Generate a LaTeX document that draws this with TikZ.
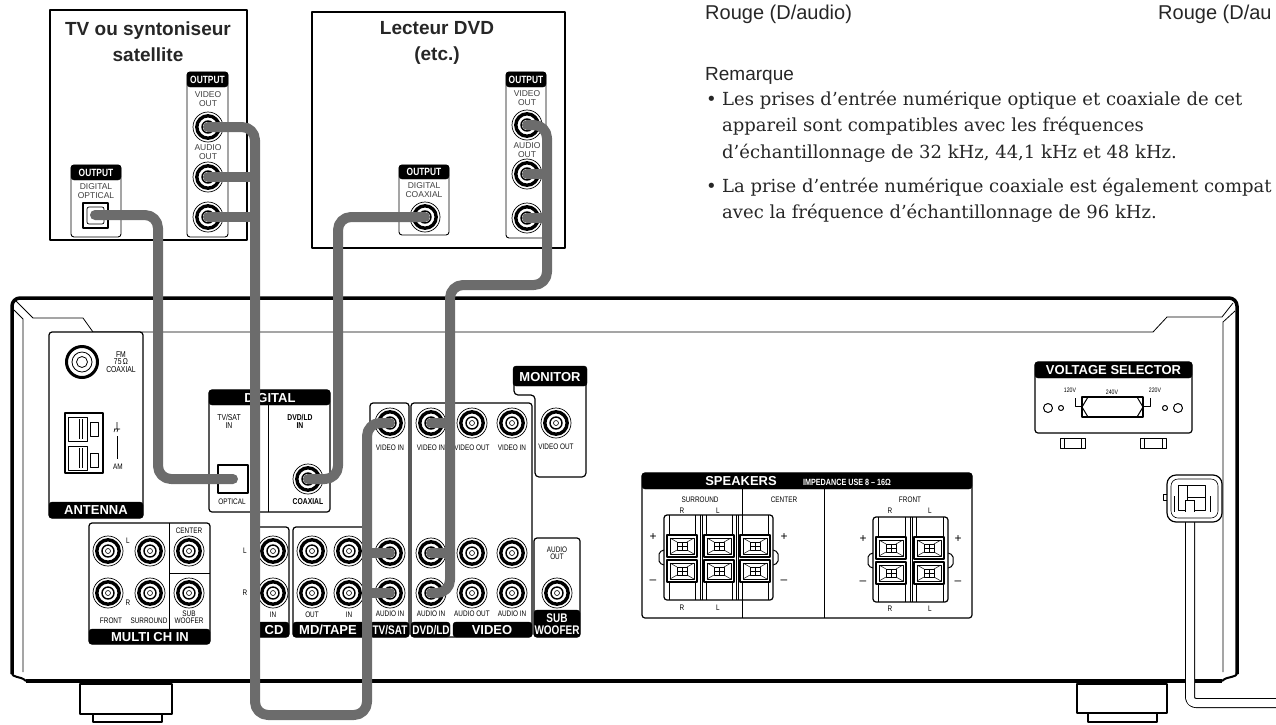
\documentclass[tikz,border=0pt]{standalone}
\usepackage{fontspec}
\setmainfont{Liberation Serif}
\setsansfont{Liberation Sans}
\newfontfamily\narrowsans{Liberation Sans}[FakeStretch=0.8]
\newfontfamily\notefont{DejaVu Serif}
\usepackage{tikz}
\definecolor{cablegray}{RGB}{108,108,108}
\tikzstyle{cable} = [draw=cablegray, line width=10pt, rounded corners=13pt, line cap=round]
\tikzstyle{panel} = [line width=1.2pt, rounded corners=3pt, fill=white]
\tikzstyle{devpanel} = [line width=0.9pt, rounded corners=3pt, fill=white]
\tikzstyle{bar} = [fill=black, rounded corners=3pt]
\tikzstyle{bartext} = [text=white, font=\sffamily\bfseries\fontsize{13}{13}\selectfont, inner sep=0pt]
\tikzstyle{narrowbar} = [text=white, font=\narrowsans\bfseries\fontsize{12.5}{12}\selectfont, inner sep=0pt, align=center]
\tikzstyle{outtab} = [text=white, font=\narrowsans\bfseries\fontsize{10.5}{10}\selectfont, inner sep=0pt]
\tikzstyle{lbl} = [font=\narrowsans\fontsize{8}{8}\selectfont, align=center, inner sep=0pt]
\tikzstyle{blbl} = [font=\narrowsans\bfseries\fontsize{8.5}{8}\selectfont, align=center, inner sep=0pt]
\tikzstyle{devlbl} = [font=\sffamily\fontsize{8.5}{9}\selectfont, align=center, inner sep=0pt, text=black!75]
\tikzstyle{title} = [font=\sffamily\bfseries\fontsize{19}{26}\selectfont, align=center, text=black!85]
\tikzstyle{note} = [font=\notefont\fontsize{18}{18}\selectfont, anchor=base west, inner sep=0pt, text=black!85]
\tikzstyle{head} = [font=\sffamily\fontsize{20}{20}\selectfont, anchor=base west, inner sep=0pt, text=black!85]
\tikzstyle{sign} = [font=\sffamily\fontsize{12}{12}\selectfont, inner sep=0pt]

% RCA socket: x, y, name
\newcommand{\rcajack}[3]{%
  \coordinate (#3) at (#1,#2);
  \draw[fill=white, line width=0.7pt] (#3) circle (15pt);
  \draw[line width=3.4pt] (#3) circle (11.2pt);
  \draw[line width=1.4pt] (#3) circle (6pt);
  \draw[line width=0.6pt] (#3) circle (2.5pt);
}
% speaker terminal button: top left corner
\newcommand{\spkbtn}[2]{%
  \draw[line width=1.3pt, fill=white] (#1,#2) rectangle ++(30,22);
  \draw[line width=0.5pt] (#1+3,#2+3) rectangle ++(24,16);
  \draw[line width=0.5pt] (#1+10,#2+7) rectangle ++(10,8);
  \draw[line width=0.5pt] (#1+3,#2+3) -- (#1+10,#2+7) (#1+27,#2+3) -- (#1+20,#2+7)
    (#1+3,#2+19) -- (#1+10,#2+15) (#1+27,#2+19) -- (#1+20,#2+15);
  \draw[line width=0.5pt] (#1+15,#2+7) -- (#1+15,#2+15) (#1+10,#2+11) -- (#1+20,#2+11);
}

\begin{document}
\begin{tikzpicture}[x=1pt,y=-1pt,line join=round]
\useasboundingbox (0,0) rectangle (1276,724);
\clip (0,0) rectangle (1276,724);

% source devices
\draw[line width=1.1pt] (50,10) rectangle (247,240);
\node[title] (tvTitle) at (148,42) {TV ou syntoniseur\\satellite};
\draw[devpanel] (71,165) rectangle (121,237);
\draw[bar] (71,165) rectangle (121,180);
\node[outtab] (tvOptTab) at (96,173) {OUTPUT};
\node[devlbl] (tvOptLbl) at (96,191) {DIGITAL\\OPTICAL};
\coordinate (tvOpt) at (95,215);
\draw[line width=1.2pt] (83,203) rectangle (108,228);
\draw[line width=0.7pt, rounded corners=2pt] (87,207) rectangle (104,224);
\draw[devpanel] (187,72) rectangle (228,237);
\draw[bar] (187,72) rectangle (228,87);
\node[outtab] (tvOutTab) at (207.5,80) {OUTPUT};
\node[devlbl] (tvVidLbl) at (208,99) {VIDEO\\OUT};
\node[devlbl] (tvAudLbl) at (208,152) {AUDIO\\OUT};
\rcajack{208}{127}{tvVid}
\rcajack{208}{177}{tvAudL}
\rcajack{208}{217}{tvAudR}

\draw[line width=1.1pt] (312,12) rectangle (565,248);
\node[title] (dvdTitle) at (437,43) {Lecteur DVD\\(etc.)};
\draw[devpanel] (399,165) rectangle (449,235);
\draw[bar] (399,165) rectangle (449,179);
\node[outtab] (dvdCoaxTab) at (424,172) {OUTPUT};
\node[devlbl] (dvdCoaxLbl) at (424,190) {DIGITAL\\COAXIAL};
\rcajack{425}{217}{dvdCoax}
\draw[devpanel] (506,72) rectangle (546,238);
\draw[bar] (506,72) rectangle (546,87);
\node[outtab] (dvdOutTab) at (526,80) {OUTPUT};
\node[devlbl] (dvdVidLbl) at (527,98) {VIDEO\\OUT};
\node[devlbl] (dvdAudLbl) at (527,150) {AUDIO\\OUT};
\rcajack{527}{125}{dvdVid}
\rcajack{527}{174}{dvdAudL}
\rcajack{527}{218}{dvdAudR}

% note text
\node[head] (rougeA) at (705,19) {Rouge (D/audio)};
\node[head] (rougeB) at (1158,19) {Rouge (D/au};
\node[head, font=\sffamily\fontsize{19}{20}\selectfont] (remarque) at (705,80) {Remarque};
\node[note] (bulA) at (706,105) {•};
\node[note] (noteA) at (722,105) {Les prises d’entrée numérique optique et coaxiale de cet};
\node[note] (noteB) at (722,131) {appareil sont compatibles avec les fréquences};
\node[note] (noteC) at (722,158) {d’échantillonnage de 32 kHz, 44,1 kHz et 48 kHz.};
\node[note] (bulB) at (706,192) {•};
\node[note] (noteD) at (722,192) {La prise d’entrée numérique coaxiale est également compat};
\node[note] (noteE) at (722,218) {avec la fréquence d’échantillonnage de 96 kHz.};

% receiver body
\draw[line width=3.5pt, rounded corners=8pt] (12,674) -- (12,298) -- (1237,298) -- (1237,674);
\draw[line width=3.5pt] (26,681) -- (1222,681);
\draw[line width=2pt] (12,672) .. controls (12,679) and (20,675) .. (26,681);
\draw[line width=2pt] (1237,672) .. controls (1237,679) and (1228,675) .. (1222,681);
\draw[line width=0.8pt] (16,301) -- (33,318) -- (83,318) -- (93,332) -- (1153,332) -- (1167,317) -- (1222,317) -- (1233,303);
\draw[line width=0.8pt] (14,310) -- (23,319) -- (23,672);
\draw[line width=0.8pt] (1235,311) -- (1223,322) -- (1223,672);
\draw[line width=1.3pt, fill=white] (80,684) rectangle (172,714);
\draw[line width=1.3pt, fill=white] (93,714) rectangle (162,722);
\draw[line width=1.3pt, fill=white] (1077,684) rectangle (1167,713);
\draw[line width=1.3pt, fill=white] (1088,713) rectangle (1157,722);

% antenna
\draw[panel] (49,332) rectangle (143,518);
\draw[bar] (49,502) rectangle (143,518);
\node[bartext] (antT) at (96,510) {ANTENNA};
\draw[line width=3pt] (82,362) circle (15.5pt);
\draw[line width=0.8pt] (82,362) circle (10pt);
\draw[line width=0.8pt] (82,362) circle (5.5pt);
\node[lbl, font=\narrowsans\fontsize{8.5}{7.5}\selectfont] (fmLbl) at (121,362) {FM\\75\,Ω\\COAXIAL};
\draw[line width=1.2pt] (65,413) rectangle (103,473);
\draw[line width=1pt] (68,417) rectangle (87,441);
\draw[line width=0.6pt] (79,419) -- (79,439) (82,419) -- (82,439);
\draw[line width=1pt] (90,422) rectangle (98,436);
\draw[line width=1pt] (68,446) rectangle (87,470);
\draw[line width=0.6pt] (79,448) -- (79,468) (82,448) -- (82,468);
\draw[line width=1pt] (90,453) rectangle (98,467);
\draw[line width=0.6pt] (114,429) -- (120,429) (117,422) -- (117,429) (115,429) -- (114,432) (118,429) -- (117,432);
\draw[line width=1pt] (117,436) -- (117,459);
\node[lbl] (amLbl) at (118,467) {AM};

% digital in
\draw[panel] (209,390) rectangle (330,512);
\draw[bar] (209,390) rectangle (330,405);
\node[bartext] (digT) at (270,398) {DIGITAL};
\draw[line width=0.9pt] (268,405) -- (268,512);
\node[lbl, font=\narrowsans\fontsize{8.5}{8}\selectfont] (digSatLbl) at (229,421) {TV/SAT\\IN};
\node[blbl] (digDvdLbl) at (300,421) {DVD/LD\\IN};
\coordinate (digOpt) at (233,479);
\draw[line width=2pt] (218,465) rectangle (248,493);
\node[lbl] (optLbl) at (232,502) {OPTICAL};
\rcajack{308}{479}{digCoax}
\node[blbl] (coaxLbl) at (308,502) {COAXIAL};

% multi channel in
\draw[panel] (89,523) rectangle (210,644);
\draw[bar] (89,629) rectangle (210,644);
\node[bartext] (mcT) at (150,637) {MULTI CH IN};
\draw[line width=1pt] (169,523) -- (169,629) (169,573) -- (210,573);
\rcajack{108}{551}{mcFrontL}
\rcajack{150}{551}{mcSurrL}
\rcajack{189}{551}{mcCenter}
\rcajack{108}{593}{mcFrontR}
\rcajack{150}{593}{mcSurrR}
\rcajack{189}{593}{mcSub}
\node[lbl] (mcL) at (128,541) {L};
\node[lbl] (mcR) at (128,603) {R};
\node[lbl] (mcCtr) at (189,531) {CENTER};
\node[lbl] (mcFr) at (111,621) {FRONT};
\node[lbl] (mcSr) at (149,621) {SURROUND};
\node[lbl, font=\narrowsans\fontsize{8}{7}\selectfont] (mcSw) at (189,617) {SUB\\WOOFER};

% cd, md/tape
\draw[panel] (252,527) rectangle (289,637);
\draw[bar] (252,622) rectangle (289,637);
\node[bartext] (cdT) at (274,630) {CD};
\rcajack{273}{551}{cdL}
\rcajack{273}{593}{cdR}
\node[lbl] (cdLl) at (245,551) {L};
\node[lbl] (cdRl) at (245,593) {R};
\node[lbl] (cdIn) at (273,615) {IN};
\draw[panel] (293,527) rectangle (366,637);
\draw[bar] (293,622) rectangle (366,637);
\node[bartext] (mdT) at (328,630) {MD/TAPE};
\rcajack{312}{551}{mdOutL}
\rcajack{349}{551}{mdInL}
\rcajack{312}{593}{mdOutR}
\rcajack{349}{593}{mdInR}
\node[lbl] (mdOut) at (312,615) {OUT};
\node[lbl] (mdIn) at (349,615) {IN};

% tv/sat, dvd/ld, video
\draw[panel] (370,403) rectangle (409,637);
\draw[bar] (370,622) rectangle (409,637);
\node[narrowbar] (satT) at (390,630) {TV/SAT};
\rcajack{390}{423}{satVid}
\rcajack{390}{553}{satAudL}
\rcajack{390}{593}{satAudR}
\node[lbl] (satVl) at (390,448) {VIDEO IN};
\node[lbl] (satAl) at (390,614) {AUDIO IN};
\draw[panel] (411,403) rectangle (532,637);
\draw[bar] (411,622) rectangle (450,637);
\node[narrowbar] (dvdldT) at (431,630) {DVD/LD};
\draw[bar] (453,622) rectangle (532,637);
\node[bartext] (vidT) at (492,630) {VIDEO};
\rcajack{431}{423}{dvdldVid}
\rcajack{472}{423}{vidVout}
\rcajack{512}{423}{vidVin}
\rcajack{431}{553}{dvdldAudL}
\rcajack{472}{553}{vidAoutL}
\rcajack{512}{553}{vidAinL}
\rcajack{431}{593}{dvdldAudR}
\rcajack{472}{593}{vidAoutR}
\rcajack{512}{593}{vidAinR}
\node[lbl] (dvdldVl) at (431,448) {VIDEO IN};
\node[lbl] (vidVol) at (472,448) {VIDEO OUT};
\node[lbl] (vidVil) at (512,448) {VIDEO IN};
\node[lbl] (dvdldAl) at (431,614) {AUDIO IN};
\node[lbl] (vidAol) at (472,614) {AUDIO OUT};
\node[lbl] (vidAil) at (512,614) {AUDIO IN};

% monitor, sub woofer
\draw[line width=1.2pt, rounded corners=4pt] (514,380) -- (514,395) -- (535,395) -- (535,477) -- (586,477) -- (586,380);
\draw[bar] (513,366) rectangle (587,386);
\node[bartext] (monT) at (550,377) {MONITOR};
\rcajack{556}{423}{monVid}
\node[lbl] (monVl) at (556,447) {VIDEO OUT};
\draw[panel] (534,538) rectangle (580,637);
\draw[bar] (534,610) rectangle (580,637);
\node[narrowbar] (subT) at (557,624) {SUB\\WOOFER};
\rcajack{557}{593}{subOut}
\node[lbl, font=\narrowsans\fontsize{8}{7.5}\selectfont] (subAl) at (557,553) {AUDIO\\OUT};

% speakers
\draw[panel] (642,473) rectangle (972,618);
\draw[bar] (642,473) rectangle (972,489);
\node[bartext] (spkT) at (741,481) {SPEAKERS};
\node[blbl, text=white, font=\narrowsans\bfseries\fontsize{9}{9}\selectfont] (spkImp) at (847,482) {IMPEDANCE USE 8 – 16Ω};
\draw[line width=1pt] (742,489) -- (742,618) (824,489) -- (824,618);
\node[lbl] (srLbl) at (700,500) {SURROUND};
\node[lbl] (srR) at (682,511) {R};
\node[lbl] (srL) at (718,511) {L};
\node[lbl] (ctLbl) at (784,500) {CENTER};
\node[lbl] (frLbl) at (910,500) {FRONT};
\node[lbl] (frR) at (890,511) {R};
\node[lbl] (frL) at (930,511) {L};
\node[lbl] (srR2) at (682,608) {R};
\node[lbl] (srL2) at (718,608) {L};
\node[lbl] (frR2) at (890,609) {R};
\node[lbl] (frL2) at (930,609) {L};
\node[sign] (p1) at (653,537) {+};
\node[sign] (m1) at (653,582) {–};
\node[sign] (p2) at (784,537) {+};
\node[sign] (m2) at (784,582) {–};
\node[sign] (p3) at (863,539) {+};
\node[sign] (m3) at (863,583) {–};
\node[sign] (p4) at (958,539) {+};
\node[sign] (m4) at (958,583) {–};
\draw[line width=1pt, rounded corners=2pt] (664,550) -- (659,552) -- (659,563) -- (664,565);
\draw[line width=1pt, rounded corners=2pt] (773,550) -- (778,552) -- (778,563) -- (773,565);
\draw[line width=1.2pt, rounded corners=3pt, fill=white] (664,515) rectangle (773,600);
\draw[line width=0.8pt] (700,515) -- (700,600) (702,515) -- (702,600) (736,515) -- (736,600) (738,515) -- (738,600);
\draw[line width=0.6pt] (669,515) -- (669,535) (695,515) -- (695,535) (706,515) -- (706,535) (732,515) -- (732,535) (742,515) -- (742,535) (768,515) -- (768,535);
\draw[line width=0.6pt] (669,582) -- (669,600) (695,582) -- (695,600) (706,582) -- (706,600) (732,582) -- (732,600) (742,582) -- (742,600) (768,582) -- (768,600);
\spkbtn{667}{535}
\spkbtn{704}{535}
\spkbtn{740}{535}
\spkbtn{667}{560}
\spkbtn{704}{560}
\spkbtn{740}{560}
\draw[line width=1pt, rounded corners=2pt] (873,553) -- (868,555) -- (868,566) -- (873,568);
\draw[line width=1pt, rounded corners=2pt] (948,553) -- (953,555) -- (953,566) -- (948,568);
\draw[line width=1.2pt, rounded corners=3pt, fill=white] (873,517) rectangle (948,602);
\draw[line width=0.8pt] (910,517) -- (910,602) (912,517) -- (912,602);
\draw[line width=0.6pt] (878,517) -- (878,537) (905,517) -- (905,537) (916,517) -- (916,537) (943,517) -- (943,537);
\draw[line width=0.6pt] (878,584) -- (878,602) (905,584) -- (905,602) (916,584) -- (916,602) (943,584) -- (943,602);
\spkbtn{876}{537}
\spkbtn{914}{537}
\spkbtn{876}{562}
\spkbtn{914}{562}

% voltage selector
\draw[panel] (1035,362) rectangle (1192,433);
\draw[bar] (1035,362) rectangle (1192,378);
\node[bartext] (voltT) at (1113.5,370) {VOLTAGE SELECTOR};
\draw[line width=1pt] (1048,408) circle (4.5pt) (1061,408) circle (2.5pt) (1165,408) circle (2.5pt) (1178,408) circle (4.5pt);
\draw[line width=1.2pt] (1082,397) rectangle (1143,417);
\draw[line width=1pt] (1075,398) -- (1075,406) -- (1082,406) (1150,398) -- (1150,406) -- (1143,406);
\draw[line width=1pt] (1088,397) -- (1082,407) -- (1088,417) (1137,397) -- (1143,407) -- (1137,417);
\node[lbl, font=\narrowsans\fontsize{6.5}{6}\selectfont] (v120) at (1070,390) {120V};
\node[lbl, font=\narrowsans\fontsize{6.5}{6}\selectfont] (v240) at (1112,392) {240V};
\node[lbl, font=\narrowsans\fontsize{6.5}{6}\selectfont] (v220) at (1155,390) {220V};
\draw[line width=1pt] (1060,438) rectangle (1085,448) (1140,438) rectangle (1166,448);
\draw[line width=0.8pt] (1064,438) -- (1064,448) (1081,438) -- (1081,448) (1144,438) -- (1144,448) (1162,438) -- (1162,448);

% power cord
\draw[line width=10pt, rounded corners=6pt] (1190,500) -- (1190,703) -- (1285,703);
\draw[line width=8pt, white, rounded corners=5pt] (1190,501) -- (1190,703) -- (1285,703);
\draw[line width=1pt] (1167,494) -- (1163,494) -- (1163,500) -- (1167,500);
\draw[line width=1.2pt, rounded corners=9pt, fill=white] (1167,475) rectangle (1222,522);
\draw[line width=0.6pt, rounded corners=7pt] (1171,479) rectangle (1218,518);
\draw[line width=1pt] (1178,485) rectangle (1205,510);
\draw[line width=0.8pt] (1187,485) -- (1187,510) (1187,497) -- (1205,497);
\draw[line width=0.7pt] (1174,496) -- (1174,512) (1210,496) -- (1210,512);
\draw[line width=10pt] (1190,500) -- (1190,512);
\draw[line width=8pt, white] (1190,501) -- (1190,513);

% cables
\draw[cable] (tvOpt) -| (158,479) -- (digOpt);
\draw[cable] (dvdCoax) -| (338,479) -- (digCoax);
\draw[cable] (tvVid) -| (255,715) -| (367,423) -- (satVid);
\draw[cable] (tvAudL) -- (255,177);
\draw[cable] (tvAudR) -- (255,217);
\draw[cable] (367,553) -- (satAudL);
\draw[cable] (367,593) -- (satAudR);
\draw[cable] (dvdVid) -| (547,285) -| (450,593) -- (dvdldAudR);
\draw[cable] (dvdAudL) -- (547,174);
\draw[cable] (dvdAudR) -- (547,218);
\draw[cable] (450,423) -- (dvdldVid);
\draw[cable] (450,553) -- (dvdldAudL);
\end{tikzpicture}
\end{document}
